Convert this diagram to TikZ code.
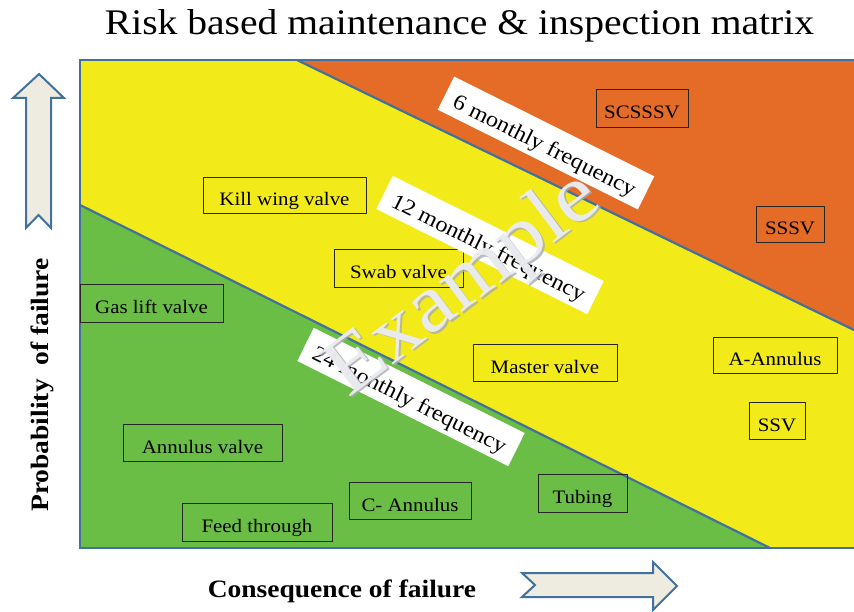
\documentclass[tikz,border=0pt]{standalone}
\usepackage{fontspec}
\setmainfont{Liberation Serif}[FakeStretch=1.1]
\definecolor{orng}{RGB}{228,108,39}
\definecolor{yel}{RGB}{242,234,25}
\definecolor{grn}{RGB}{106,189,69}
\definecolor{bord}{RGB}{65,113,156}
\definecolor{arrfill}{RGB}{238,236,225}
\definecolor{wmwhite}{RGB}{236,237,241}
\definecolor{wmgray}{RGB}{170,172,178}
\begin{document}
\begin{tikzpicture}[x=1pt,y=-1pt,
  item/.style={draw=black!85, line width=0.9pt, inner sep=0pt, text=black,
    text height=21pt, text depth=0pt,
    font=\fontsize{19}{22}\selectfont},
  freq/.style={fill=white, inner xsep=11pt, inner ysep=0pt, minimum height=37pt,
    text height=20pt, text depth=0pt,
    font=\fontsize{22}{26}\selectfont, rotate=-26.5},
  edge/.style={draw=bord, line width=2.2pt},
  bigarrow/.style={draw=bord, line width=2pt, fill=arrfill, line join=miter},
  axislabel/.style={font=\bfseries\fontsize{25}{30}\selectfont, inner sep=0pt},
  watermark/.style={font=\fontsize{82}{86}\selectfont, rotate=37, inner sep=0pt}]
\useasboundingbox (0,0) rectangle (854,612);
% regions
\fill[yel] (80,60) rectangle (854,548);
\fill[orng] (297,60) -- (854,60) -- (854,330) -- cycle;
\fill[grn] (80,205) -- (770,548) -- (80,548) -- cycle;
\draw[edge] (854,60) -- (80,60) -- (80,548) -- (854,548);
\draw[edge] (297,60) -- (854,330);
\draw[edge] (80,205) -- (770,548);
% title
\node[anchor=base, inner sep=0pt, font=\fontsize{36}{40}\selectfont] (title) at (459.5,35) {Risk based maintenance \& inspection matrix};
% axis arrows
\draw[bigarrow] (39,74) -- (64,98) -- (51,98) -- (51,228) -- (38.5,215) -- (26,228) -- (26,98) -- (13,98) -- cycle;
\draw[bigarrow] (522,573) -- (653,573) -- (653,562) -- (677,586) -- (653,610) -- (653,597) -- (522,597) -- (535,585) -- cycle;
% axis labels
\node[axislabel, rotate=90] (ylab) at (42,385) {Probability\ \ of failure};
\node[axislabel, anchor=base] (xlab) at (342,597) {Consequence of failure};
% items
\node[item, minimum width=163pt, minimum height=36pt] (kill) at (284.5,195) {Kill wing valve};
\node[item, minimum width=143pt, minimum height=38pt] (gas) at (151.5,303) {Gas lift valve};
\node[item, minimum width=129pt, minimum height=38pt] (swab) at (398.5,268) {Swab valve};
\node[item, minimum width=92pt, minimum height=38pt] (scsssv) at (642,108) {SCSSSV};
\node[item, minimum width=68pt, minimum height=36pt] (sssv) at (790,224) {SSSV};
\node[item, minimum width=144pt, minimum height=37pt] (master) at (545,362.5) {Master valve};
\node[item, minimum width=124pt, minimum height=36pt] (aann) at (775,355) {A-Annulus};
\node[item, minimum width=56pt, minimum height=37pt] (ssv) at (777,420.5) {SSV};
\node[item, minimum width=89pt, minimum height=38pt] (tubing) at (582.5,493) {Tubing};
\node[item, minimum width=122pt, minimum height=37pt] (cann) at (410,500.5) {C- Annulus};
\node[item, minimum width=159pt, minimum height=37pt] (annv) at (202.5,442.5) {Annulus valve};
\node[item, minimum width=150pt, minimum height=38pt] (feed) at (257,522) {Feed through};
% frequency labels
\node[freq] (f6) at (546,143) {6 monthly frequency};
\node[freq] (f12) at (490,245) {12 monthly frequency};
\node[freq] (f24) at (411,397) {24 monthly frequency};
% watermark
\node[watermark, text=wmgray, opacity=0.8] (wmshadow) at (466.5,287.5) {Example};
\node[watermark, text=wmwhite, opacity=0.95] (wm) at (465,286) {Example};
\end{tikzpicture}
\end{document}
